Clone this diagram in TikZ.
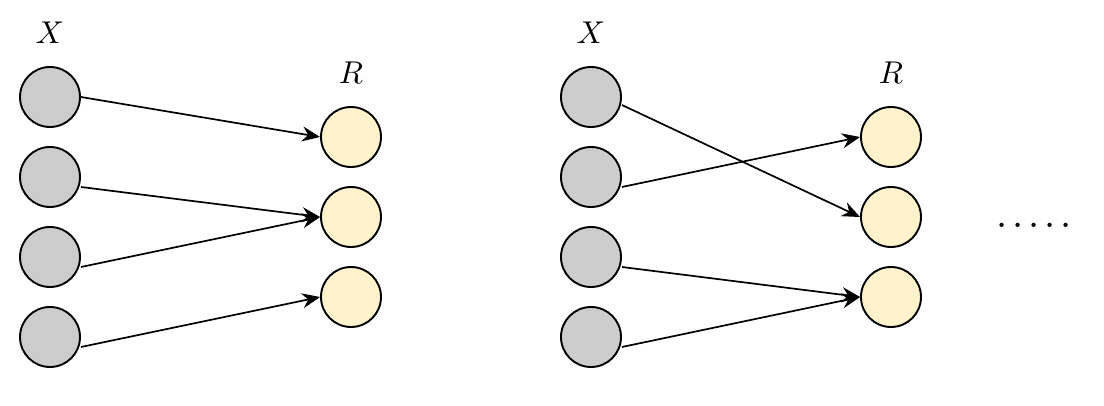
\documentclass[tikz,border=0pt]{standalone}
\usetikzlibrary{arrows.meta}
\definecolor{xgray}{HTML}{CCCCCC}
\definecolor{ryellow}{HTML}{FFF2CC}
\tikzset{
  xnode/.style={circle, draw=black, line width=1.9pt, fill=xgray, minimum size=60pt, inner sep=0pt},
  rnode/.style={circle, draw=black, line width=1.9pt, fill=ryellow, minimum size=60pt, inner sep=0pt},
  link/.style={line width=1.7pt, -{Stealth[length=18pt, width=15pt, inset=6pt]}},
  lbl/.style={inner sep=0pt, scale=3.15}
}
\begin{document}
\begin{tikzpicture}[x=1pt, y=-1pt]
  \useasboundingbox (0,0) rectangle (1104,406);

  % left mapping
  \node[lbl] (lx) at (50,33) {$X$};
  \node[lbl] (lr) at (351,73) {$R$};
  \node[xnode] (a1) at (50,97) {};
  \node[xnode] (a2) at (50,177) {};
  \node[xnode] (a3) at (50,257) {};
  \node[xnode] (a4) at (50,337) {};
  \node[rnode] (b1) at (351,137) {};
  \node[rnode] (b2) at (351,217) {};
  \node[rnode] (b3) at (351,297) {};
  \draw[link] (a1.east) -- (b1.west);
  \draw[link] ([yshift=-10pt]a2.east) -- (b2.west);
  \draw[link] ([yshift=-10pt]a3.east) -- (b2.west);
  \draw[link] ([yshift=-10pt]a4.east) -- (b3.west);

  % right mapping
  \node[lbl] (rx) at (591,33) {$X$};
  \node[lbl] (rr) at (891,73) {$R$};
  \node[xnode] (c1) at (591,97) {};
  \node[xnode] (c2) at (591,177) {};
  \node[xnode] (c3) at (591,257) {};
  \node[xnode] (c4) at (591,337) {};
  \node[rnode] (d1) at (891,137) {};
  \node[rnode] (d2) at (891,217) {};
  \node[rnode] (d3) at (891,297) {};
  \draw[link] ([yshift=-8pt]c1.east) -- (d2.west);
  \draw[link] ([yshift=-10pt]c2.east) -- (d1.west);
  \draw[link] ([yshift=-10pt]c3.east) -- (d3.west);
  \draw[link] ([yshift=-10pt]c4.east) -- (d3.west);

  % continuation dots
  \node[inner sep=0pt, scale=4] (dots) at (1034,225)
    {.\hspace{1.2pt}.\hspace{1.2pt}.\hspace{1.2pt}.\hspace{1.2pt}.};
\end{tikzpicture}
\end{document}
